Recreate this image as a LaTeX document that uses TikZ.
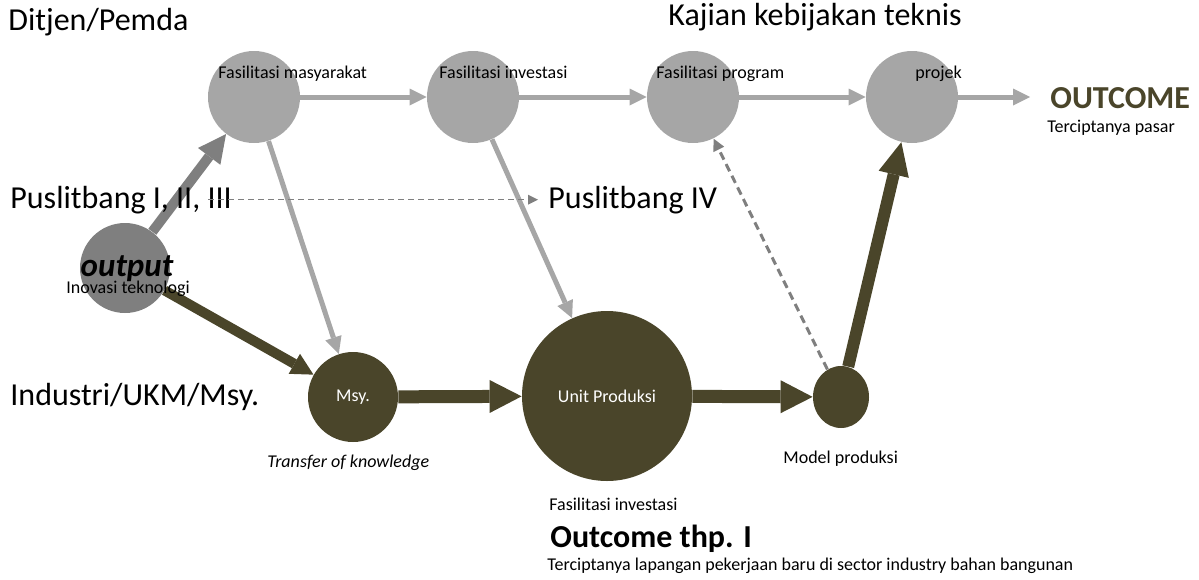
\documentclass[tikz,border=0pt]{standalone}
\usepackage{fontspec}
\setmainfont{Carlito}
\usepackage{tikz}
\usetikzlibrary{arrows.meta}
\usetikzlibrary{shapes.geometric}
\definecolor{lightgr}{HTML}{A6A6A6}
\definecolor{midgr}{HTML}{7F7F7F}
\definecolor{darkolive}{HTML}{4A452A}
\tikzstyle{lbl} = [inner sep=0, anchor=base west, font=\fontsize{16}{19}\selectfont]
\tikzstyle{sm} = [inner sep=0, anchor=base west, font=\fontsize{9}{11}\selectfont]
\tikzstyle{lgcirc} = [circle, fill=lightgr, minimum size=46pt, inner sep=0]
\tikzstyle{olcirc} = [circle, fill=darkolive, inner sep=0, text=white, font=\fontsize{9}{11}\selectfont]
\tikzstyle{lightarr} = [-{Triangle[length=8.5pt, width=8.5pt, line width=0pt]}, draw=lightgr, line width=2.5pt]
\tikzstyle{grayarr} = [-{Triangle[length=14pt, width=14pt, line width=0pt]}, draw=midgr, line width=5pt]
\tikzstyle{olivearr} = [-{Triangle[length=11pt, width=11.5pt, line width=0pt]}, draw=darkolive, line width=5pt]
\tikzstyle{bigarr} = [-{Triangle[length=16pt, width=16.5pt, line width=0pt]}, draw=darkolive, line width=6.5pt]
\tikzstyle{dasharr} = [-{Triangle[length=6pt, width=6pt, line width=0pt]}, draw=midgr, line width=1.5pt, dash pattern=on 4pt off 2.5pt]
\tikzstyle{thindash} = [-{Triangle[length=5pt, width=5pt, line width=0pt]}, draw=midgr, line width=0.7pt, dash pattern=on 3pt off 2pt]

\begin{document}
\begin{tikzpicture}[x=0.5pt, y=-0.5pt]
\useasboundingbox (0,0) rectangle (1199,579);
% circles
\node [lgcirc] (fmas) at (254,97) {};
\node [lgcirc] (finv) at (473,97) {};
\node [lgcirc] (fprog) at (693,97) {};
\node [lgcirc] (proj) at (912,97) {};
\coordinate (outc) at (1030,97);
\node [circle, fill=midgr, minimum size=45pt, inner sep=0] (outp) at (125,268) {};
\node [olcirc, minimum size=45pt] (msy) at (353,397) {Msy.};
\node [olcirc, minimum size=85pt] (unit) at (607,396) {Unit Produksi};
\node [ellipse, fill=darkolive, minimum width=28pt, minimum height=31pt, inner sep=0] (model) at (841,397) {};

% connectors
\draw [lightarr] (fmas) to (finv);
\draw [lightarr] (finv) to (fprog);
\draw [lightarr] (fprog) to (proj);
\draw [lightarr] (proj) to (outc);
\draw [lightarr] (fmas) to (msy);
\draw [lightarr] (finv) to (unit);
\draw [grayarr] (outp) to (fmas);
\draw [olivearr] (outp) to (msy);
\draw [bigarr] (msy) to (unit);
\draw [bigarr] (unit) to (model);
\draw [olivearr, line width=6pt, -{Triangle[length=16.5pt, width=15.5pt, line width=0pt]}] (model) to (proj);
\draw [dasharr] (model) to (fprog);

% row labels
\node [lbl] (ditjen) at (8,30) {Ditjen/Pemda};
\node [lbl] (pl1) at (10,208) {Puslitbang I, II, III};
\node [lbl] (ind) at (10,405) {Industri/UKM/Msy.};
\node [lbl] (kajian) at (668,25) {Kajian kebijakan teknis};
\node [lbl] (pl4) at (548,208) {Puslitbang IV};
\draw [thindash, shorten >=5pt] ([xshift=-12pt]pl1.east) to (pl4.west);

% texts
\node [sm] (tmas) at (218,78) {Fasilitasi masyarakat};
\node [sm] (tinv) at (439,78) {Fasilitasi investasi};
\node [sm] (tprog) at (656,78) {Fasilitasi program};
\node [sm] (tproj) at (915,78) {projek};
\node [inner sep=0, anchor=base west, font=\fontsize{16}{19}\selectfont\bfseries, text=darkolive] (outcome) at (1050,108) {OUTCOME};
\node [sm] (pasar) at (1047,132) {Terciptanya pasar};
\node [inner sep=0, anchor=base, font=\fontsize{16.5}{19}\selectfont\bfseries\itshape] (toutp) at (127,276) {output};
\node [sm] (inov) at (66,293) {Inovasi teknologi};
\node [sm, font=\fontsize{9}{11}\selectfont\itshape] (tok) at (267,467) {Transfer of knowledge};
\node [sm] (tmodel) at (783,463) {Model produksi};
\node [sm] (tfinv) at (549,510) {Fasilitasi investasi};
\node [inner sep=0, anchor=base west, font=\fontsize{16}{19}\selectfont\bfseries] (thp) at (550,547) {Outcome thp. I};
\node [sm] (kerja) at (547,570) {Terciptanya lapangan pekerjaan baru di sector industry bahan bangunan};
\end{tikzpicture}
\end{document}
